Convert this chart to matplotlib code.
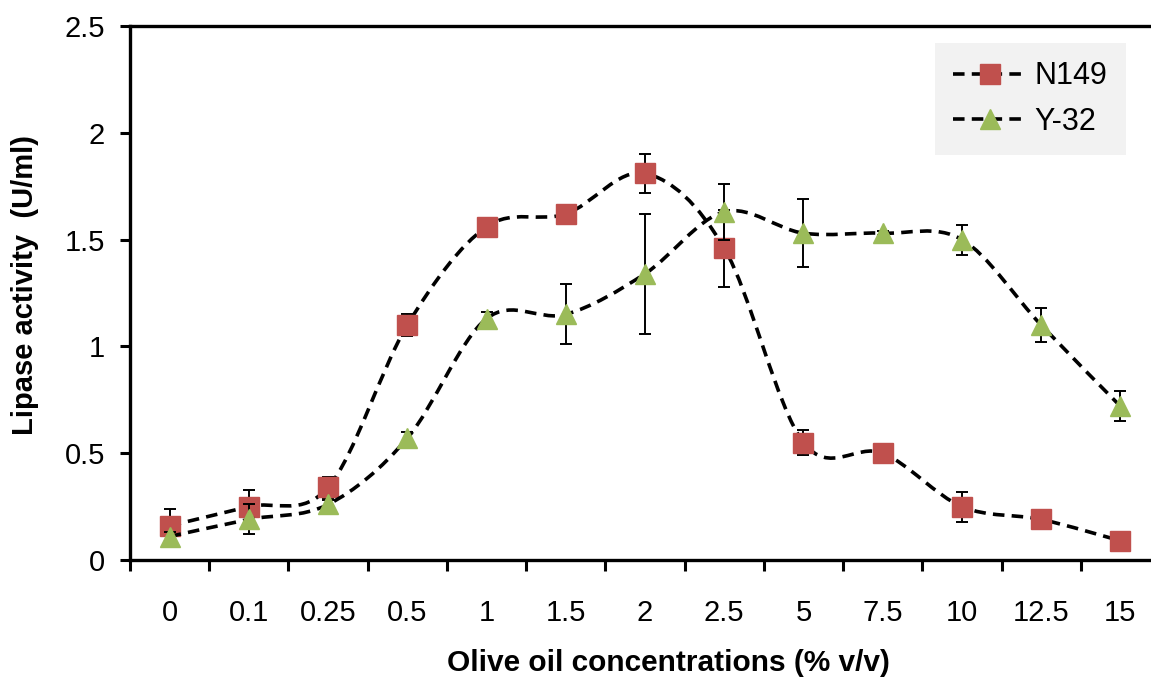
import numpy as np
import matplotlib
matplotlib.use("Agg")
import matplotlib.pyplot as plt
from matplotlib.path import Path
from matplotlib.patches import PathPatch
from matplotlib.lines import Line2D

plt.rcParams['font.family'] = ['Liberation Sans', 'DejaVu Sans']

# olive oil concentration categories (% v/v)
categories = ['0', '0.1', '0.25', '0.5', '1', '1.5', '2', '2.5', '5', '7.5', '10', '12.5', '15']

n149 = [0.16, 0.25, 0.34, 1.10, 1.56, 1.62, 1.81, 1.46, 0.55, 0.50, 0.25, 0.19, 0.09]
n149_err = [0.08, 0.08, 0.05, 0.05, 0.04, 0.03, 0.09, 0.18, 0.06, 0.03, 0.07, 0.02, 0.01]

y32 = [0.11, 0.19, 0.26, 0.57, 1.13, 1.15, 1.34, 1.63, 1.53, 1.53, 1.50, 1.10, 0.72]
y32_err = [0.02, 0.07, 0.02, 0.03, 0.03, 0.14, 0.28, 0.13, 0.16, 0.01, 0.07, 0.08, 0.07]

RED = '#C0504D'
GREEN = '#9BBB59'
DASH = (0, (3.2, 2.0))
LW = 2.6


def smooth_path(x, y):
    # excel style smoothed line: cubic bezier segments (catmull-rom control points)
    pts = np.column_stack([x, y]).astype(float)
    ext = np.vstack([pts[0], pts, pts[-1]])
    verts = [pts[0]]
    codes = [Path.MOVETO]
    for i in range(1, len(ext) - 2):
        p0, p1, p2, p3 = ext[i - 1], ext[i], ext[i + 1], ext[i + 2]
        verts += [p1 + (p2 - p0) / 6, p2 - (p3 - p1) / 6, p2]
        codes += [Path.CURVE4] * 3
    return Path(verts, codes)


fig = plt.figure(figsize=(11.51, 6.84), dpi=100)
ax = fig.add_axes([130 / 1151, 124 / 684, 1030 / 1151, 534 / 684])

x = np.arange(len(categories))

for vals, errs, col, mk, z in [(n149, n149_err, RED, 's', 3), (y32, y32_err, GREEN, '^', 5)]:
    ax.add_patch(PathPatch(smooth_path(x, vals), fill=False, edgecolor='black',
                           lw=LW, linestyle=DASH, zorder=z))
    ax.errorbar(x, vals, yerr=errs, fmt='none', ecolor='black', elinewidth=1.4,
                capsize=4.5, capthick=1.4, zorder=z + 0.5)
    ax.plot(x, vals, linestyle='none', marker=mk, ms=14.5, color=col,
            markeredgecolor=col, zorder=z + 1)

ax.set_xlim(-0.5, 12.5)
ax.set_ylim(0, 2.5)

# ticks at category boundaries, labels at centres
ax.set_xticks(np.arange(-0.5, 12.6, 1))
ax.set_xticklabels([])
ax.set_xticks(x, minor=True)
ax.set_xticklabels(categories, minor=True)
ax.tick_params(axis='x', which='major', direction='out', length=8, width=2.2)
ax.tick_params(axis='x', which='minor', length=0, pad=28, labelsize=21)

ax.set_yticks([0, 0.5, 1, 1.5, 2, 2.5])
ax.set_yticklabels(['0', '0.5', '1', '1.5', '2', '2.5'])
ax.tick_params(axis='y', direction='out', length=7, width=2.2, pad=11, labelsize=21)

for s in ['left', 'bottom', 'top']:
    ax.spines[s].set_linewidth(2.4)
ax.spines['right'].set_visible(False)

fig.text(25 / 1151, 1 - 285 / 684, 'Lipase activity  (U/ml)', rotation=90,
         ha='center', va='center', fontsize=21, fontweight='bold')
fig.text(668 / 1151, 1 - 663 / 684, 'Olive oil concentrations (% v/v)',
         ha='center', va='center', fontsize=21.5, fontweight='bold')

handles = [Line2D([], [], color='black', lw=LW, linestyle=DASH, marker='s', ms=14.5,
                  markerfacecolor=RED, markeredgecolor=RED),
           Line2D([], [], color='black', lw=LW, linestyle=DASH, marker='^', ms=14.5,
                  markerfacecolor=GREEN, markeredgecolor=GREEN)]
leg = ax.legend(handles, ['N149', 'Y-32'], loc='upper left',
                bbox_to_anchor=((935 - 130) / 1030, (560 - 43) / 534),
                fontsize=22, frameon=True, facecolor='#F2F2F2', edgecolor='none',
                framealpha=1, fancybox=False, handlelength=2.4, handletextpad=0.25,
                labelspacing=0.5, borderpad=0.6, borderaxespad=0)

fig.savefig('out.png', dpi=100)
